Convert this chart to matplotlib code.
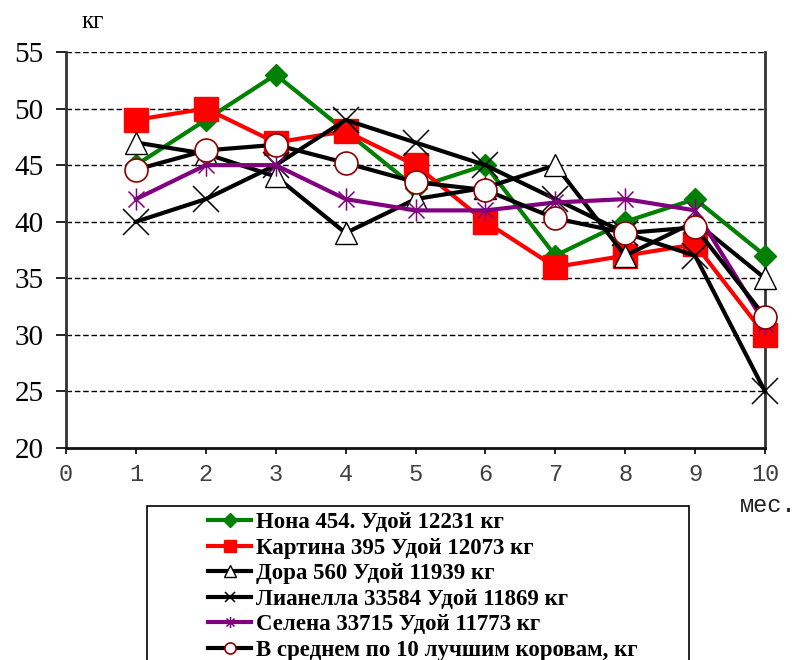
import matplotlib
matplotlib.use("Agg")
import matplotlib.pyplot as plt
from matplotlib.lines import Line2D
from matplotlib.patches import Rectangle
from matplotlib.path import Path

months = [1, 2, 3, 4, 5, 6, 7, 8, 9, 10]
x_ticks = [0, 1, 2, 3, 4, 5, 6, 7, 8, 9, 10]
y_ticks = [20, 25, 30, 35, 40, 45, 50, 55]

nona = [45, 49, 53, 48, 43, 45, 37, 40, 42, 37]
kartina = [49, 50, 47, 48, 45, 40, 36, 37, 38, 30]
dora = [47, 46, 44, 39, 42, 43, 45, 37, 40, 35]
lianella = [40, 42, 45, 49, 47, 45, 42, 39, 37, 25]
selena = [42, 45, 45, 42, 41, 41, 41.7, 42, 41, 31]
average = [44.6, 46.3, 46.8, 45.2, 43.5, 42.8, 40.3, 39.0, 39.5, 31.6]

labels = [
    "Нона 454. Удой 12231 кг",
    "Картина 395 Удой 12073 кг",
    "Дора 560 Удой 11939 кг",
    "Лианелла 33584 Удой 11869 кг",
    "Селена 33715 Удой 11773 кг",
    "В среднем по 10 лучшим коровам, кг",
]

star = Path([(0, -1), (0, 1), (-0.72, -0.72), (0.72, 0.72), (-0.72, 0.72), (0.72, -0.72)],
            [Path.MOVETO, Path.LINETO, Path.MOVETO, Path.LINETO, Path.MOVETO, Path.LINETO])

W, H = 795, 660
fig = plt.figure(figsize=(W/100, H/100), dpi=100)
ax = fig.add_axes([66/W, 1-448/H, (765-66)/W, (448-52)/H])

lw = 3.0
styles = [
    dict(color="#008000", marker="D", ms=11.5, mfc="#008000", mec="#008000", mew=1),
    dict(color="#FF0000", marker="s", ms=17, mfc="#FF0000", mec="#FF0000", mew=1),
    dict(color="#000000", marker="^", ms=16, mfc="white", mec="black", mew=1),
    dict(color="#000000", marker="x", ms=19, mfc="none", mec="black", mew=1.1),
    dict(color="#800080", marker=star, ms=16, mfc="none", mec="#800080", mew=1.1),
    dict(color="#000000", marker="o", ms=16.5, mfc="white", mec="#8B0000", mew=1.2),
]
series = [nona, kartina, dora, lianella, selena, average]
for i, (vals, st) in enumerate(zip(series, styles)):
    ax.plot(months, vals, lw=lw, zorder=3+i, clip_on=False, **st)

ax.set_xlim(0, 10)
ax.set_ylim(20, 55)
ax.set_xticks(x_ticks)
ax.set_yticks(y_ticks)
ax.set_xticklabels([str(v) for v in x_ticks], family="Liberation Mono", fontsize=17, color="#404040")
ax.set_yticklabels([str(v) for v in y_ticks], family="Liberation Serif", fontsize=21, color="black")
ax.tick_params(axis="y", direction="out", length=7, width=1.2, pad=9)
ax.tick_params(axis="x", direction="out", length=4, width=1.2, pad=7)

for v in y_ticks[1:]:
    ax.axhline(v, color="black", lw=1.0, ls=(0, (4, 2)), zorder=1)

ax.spines["top"].set_visible(False)
ax.spines["left"].set_linewidth(2)
ax.spines["left"].set_color("#333333")
ax.spines["right"].set_linewidth(2)
ax.spines["right"].set_color("#333333")
ax.spines["bottom"].set_linewidth(2)
ax.spines["bottom"].set_color("#111111")

fig.text(82/W, 1-22/H, "кг", family="Liberation Serif", fontsize=18, va="center", ha="left")
fig.text(740/W, 1-505/H, "мес.", family="Liberation Mono", fontsize=17, va="center", ha="left", color="#202020")

# legend frame (extends past the bottom edge)
fig.patches.append(Rectangle((147/W, -0.05), (689-147)/W, (1-506/H) + 0.05,
                             transform=fig.transFigure, facecolor="white",
                             edgecolor="black", lw=1.2, zorder=0))

handles = []
leg_ms = [7, 9, 8, 7, 8, 8]
for st, ms in zip(styles, leg_ms):
    st2 = dict(st)
    st2["ms"] = ms
    handles.append(Line2D([0], [0], lw=lw, **st2))

leg = fig.legend(handles, labels, loc="upper left", bbox_to_anchor=(201/W, 1-505/H),
                 prop=dict(family="Liberation Serif", weight="bold", size=16.5),
                 frameon=False, handlelength=1.9,
                 handletextpad=0.2, labelspacing=0.2, borderpad=0.3, borderaxespad=0)
for t in leg.get_texts():
    t.set_color("black")

fig.savefig("out.png", dpi=100)
